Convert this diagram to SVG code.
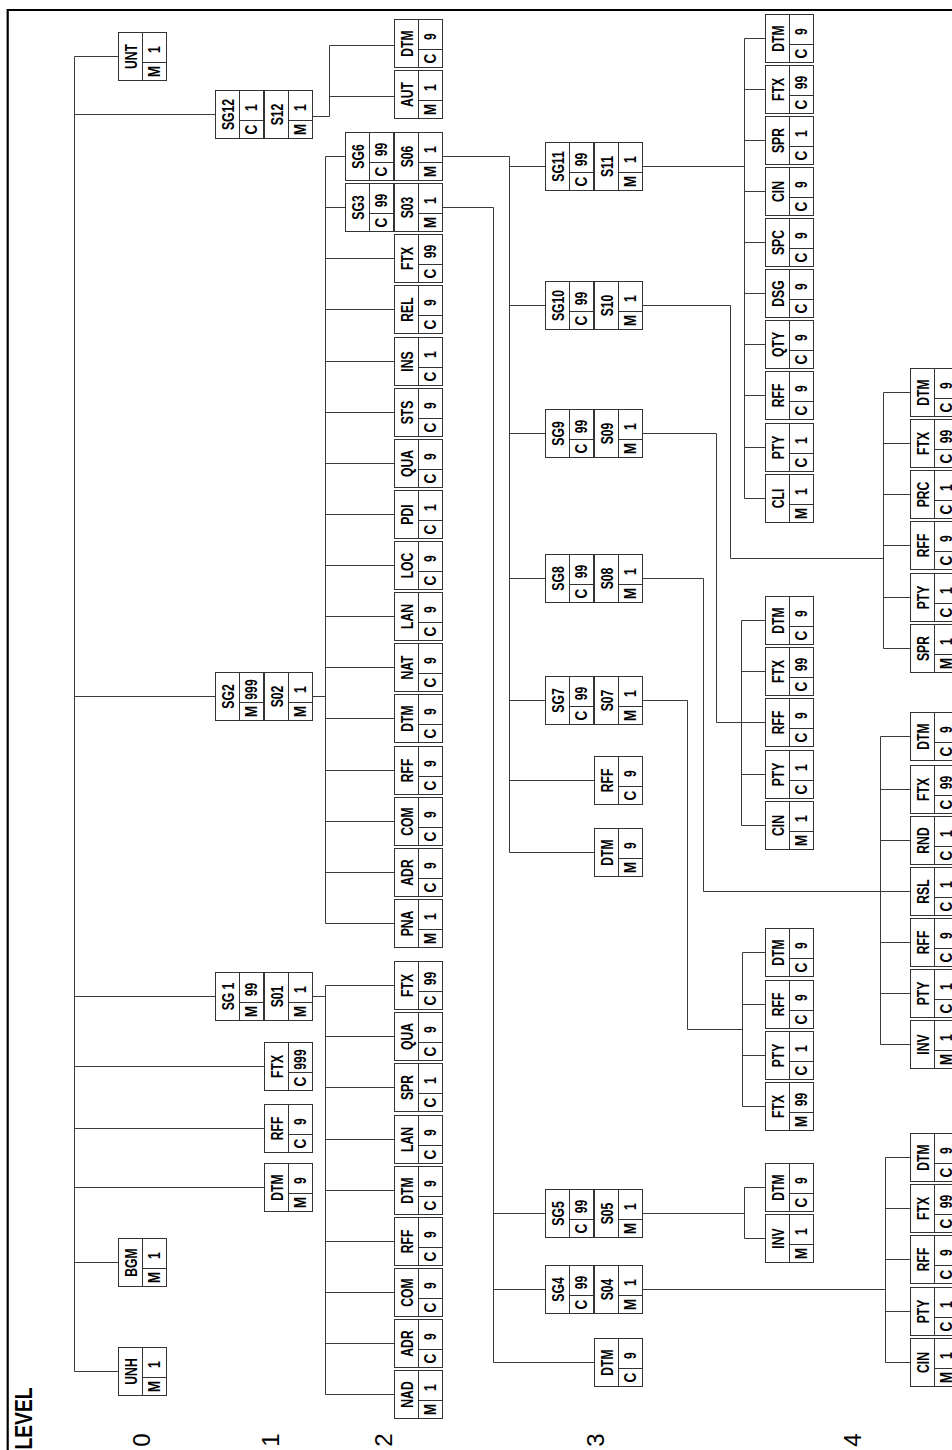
<svg xmlns="http://www.w3.org/2000/svg" width="952" height="1450" viewBox="0 0 952 1450">
<style>
text{font-family:"Liberation Sans",Arial,sans-serif;fill:#000}
.nm,.nu,.le{font-size:16px;font-weight:bold;text-anchor:middle}
.nm{transform:translate(18.5px,24px) rotate(-90deg) scale(.76,1)}
.nu{transform:translate(41.5px,17px) rotate(-90deg) scale(.76,1)}
.le{transform:translate(41.5px,39px) rotate(-90deg) scale(.85,1)}
.lk path{fill:none;stroke:#3a3a3a;stroke-width:1}
.frame{fill:none;stroke:#000;stroke-width:2.2}
.lv{font-size:24px;font-weight:bold;text-anchor:middle}
.dg{font-size:24px;text-anchor:middle}
</style>
<defs>
<g id="c"><rect width="48" height="48" fill="#fff" stroke="#333" stroke-width="1"/><path d="M24 0V48M24 30H48" fill="none" stroke="#333" stroke-width="1"/></g>
</defs>
<path class="frame" d="M7.7 1450V10H952"/>
<g class="lk" id="connectors">
<path d="M74.5 56.5V1371.5M74.5 56.5H118.5M74.5 114.5H215.5M74.5 696.5H215.5M74.5 996.5H215.5M74.5 1066.5H264.5M74.5 1128.5H264.5M74.5 1187.5H264.5M74.5 1262.5H118.5M74.5 1371.5H118.5"/>
<path d="M312.5 116.5H329.5M329.5 45.5V116.5M329.5 45.5H394.5M329.5 96.5H394.5"/>
<path d="M312.5 696.5H325.5M325.5 156.5V923.5M325.5 156.5H345.5M325.5 207.5H345.5M325.5 258.5H394.5M325.5 309.5H394.5M325.5 361.5H394.5M325.5 412.5H394.5M325.5 463.5H394.5M325.5 514.5H394.5M325.5 565.5H394.5M325.5 616.5H394.5M325.5 667.5H394.5M325.5 718.5H394.5M325.5 770.5H394.5M325.5 821.5H394.5M325.5 872.5H394.5M325.5 923.5H394.5"/>
<path d="M312.5 996.5H325.5M325.5 985.5V1394.5M325.5 985.5H394.5M325.5 1036.5H394.5M325.5 1087.5H394.5M325.5 1139.5H394.5M325.5 1190.5H394.5M325.5 1241.5H394.5M325.5 1292.5H394.5M325.5 1343.5H394.5M325.5 1394.5H394.5"/>
<path d="M442.5 156.5H509.5V852.5M509.5 166.5H545.5M509.5 305.5H545.5M509.5 433.5H545.5M509.5 578.5H545.5M509.5 700.5H545.5M509.5 780.5H594.5M509.5 852.5H594.5"/>
<path d="M442.5 207.5H493.5V1362.5M493.5 1213.5H545.5M493.5 1289.5H545.5M493.5 1362.5H594.5"/>
<path d="M642.5 166.5H744.5M744.5 38.5V498.5M744.5 38.5H765.5M744.5 89.5H765.5M744.5 140.5H765.5M744.5 191.5H765.5M744.5 242.5H765.5M744.5 293.5H765.5M744.5 344.5H765.5M744.5 395.5H765.5M744.5 447.5H765.5M744.5 498.5H765.5"/>
<path d="M642.5 305.5H730.5V558.5H883.5M883.5 392.5V648.5M883.5 392.5H910.5M883.5 443.5H910.5M883.5 494.5H910.5M883.5 545.5H910.5M883.5 597.5H910.5M883.5 648.5H910.5"/>
<path d="M642.5 433.5H716.5V722.5H741.5M741.5 620.5V825.5M741.5 620.5H765.5M741.5 671.5H765.5M741.5 722.5H765.5M741.5 774.5H765.5M741.5 825.5H765.5"/>
<path d="M642.5 578.5H703.5V891.5H880.5M880.5 736.5V1044.5M880.5 736.5H910.5M880.5 789.5H910.5M880.5 840.5H910.5M880.5 891.5H910.5M880.5 942.5H910.5M880.5 993.5H910.5M880.5 1044.5H910.5"/>
<path d="M642.5 700.5H687.5V1029.5H742.5M742.5 952.5V1106.5M742.5 952.5H765.5M742.5 1004.5H765.5M742.5 1055.5H765.5M742.5 1106.5H765.5"/>
<path d="M642.5 1213.5H744.5M744.5 1187.5V1238.5M744.5 1187.5H765.5M744.5 1238.5H765.5"/>
<path d="M642.5 1289.5H885.5M885.5 1157.5V1362.5M885.5 1157.5H910.5M885.5 1208.5H910.5M885.5 1259.5H910.5M885.5 1311.5H910.5M885.5 1362.5H910.5"/>
</g>
<g id="levels">
<text class="lv" transform="translate(32,1418.5) rotate(-90) scale(.8,1)">LEVEL</text>
<text class="dg" transform="translate(150,1440) rotate(-90)">0</text>
<text class="dg" transform="translate(279,1440) rotate(-90)">1</text>
<text class="dg" transform="translate(392,1440) rotate(-90)">2</text>
<text class="dg" transform="translate(604,1440) rotate(-90)">3</text>
<text class="dg" transform="translate(861,1440) rotate(-90)">4</text>
</g>
<g id="unt" transform="translate(118.5,32.5)"><use href="#c"/><text class="nm">UNT</text><text class="nu">1</text><text class="le">M</text></g>
<g id="bgm" transform="translate(118.5,1238.5)"><use href="#c"/><text class="nm">BGM</text><text class="nu">1</text><text class="le">M</text></g>
<g id="unh" transform="translate(118.5,1347.5)"><use href="#c"/><text class="nm">UNH</text><text class="nu">1</text><text class="le">M</text></g>
<g id="sg12" transform="translate(215.5,90.5)"><use href="#c"/><text class="nm">SG12</text><text class="nu">1</text><text class="le">C</text><g transform="translate(49,0)"><use href="#c"/><text class="nm">S12</text><text class="nu">1</text><text class="le">M</text></g></g>
<g id="sg2" transform="translate(215.5,672.5)"><use href="#c"/><text class="nm">SG2</text><text class="nu">999</text><text class="le">M</text><g transform="translate(49,0)"><use href="#c"/><text class="nm">S02</text><text class="nu">1</text><text class="le">M</text></g></g>
<g id="sg1" transform="translate(215.5,972.5)"><use href="#c"/><text class="nm">SG 1</text><text class="nu">99</text><text class="le">M</text><g transform="translate(49,0)"><use href="#c"/><text class="nm">S01</text><text class="nu">1</text><text class="le">M</text></g></g>
<g id="ftx1" transform="translate(264.5,1042.5)"><use href="#c"/><text class="nm">FTX</text><text class="nu">999</text><text class="le">C</text></g>
<g id="rff1" transform="translate(264.5,1104.5)"><use href="#c"/><text class="nm">RFF</text><text class="nu">9</text><text class="le">C</text></g>
<g id="dtm1" transform="translate(264.5,1163.5)"><use href="#c"/><text class="nm">DTM</text><text class="nu">9</text><text class="le">M</text></g>
<g id="s12-dtm" transform="translate(394.5,19.5)"><use href="#c"/><text class="nm">DTM</text><text class="nu">9</text><text class="le">C</text></g>
<g id="s12-aut" transform="translate(394.5,70.5)"><use href="#c"/><text class="nm">AUT</text><text class="nu">1</text><text class="le">M</text></g>
<g id="sg6" transform="translate(345.5,132.5)"><use href="#c"/><text class="nm">SG6</text><text class="nu">99</text><text class="le">C</text><g transform="translate(49,0)"><use href="#c"/><text class="nm">S06</text><text class="nu">1</text><text class="le">M</text></g></g>
<g id="sg3" transform="translate(345.5,183.5)"><use href="#c"/><text class="nm">SG3</text><text class="nu">99</text><text class="le">C</text><g transform="translate(49,0)"><use href="#c"/><text class="nm">S03</text><text class="nu">1</text><text class="le">M</text></g></g>
<g id="s02-ftx" transform="translate(394.5,234.5)"><use href="#c"/><text class="nm">FTX</text><text class="nu">99</text><text class="le">C</text></g>
<g id="s02-rel" transform="translate(394.5,285.5)"><use href="#c"/><text class="nm">REL</text><text class="nu">9</text><text class="le">C</text></g>
<g id="s02-ins" transform="translate(394.5,337.5)"><use href="#c"/><text class="nm">INS</text><text class="nu">1</text><text class="le">C</text></g>
<g id="s02-sts" transform="translate(394.5,388.5)"><use href="#c"/><text class="nm">STS</text><text class="nu">9</text><text class="le">C</text></g>
<g id="s02-qua" transform="translate(394.5,439.5)"><use href="#c"/><text class="nm">QUA</text><text class="nu">9</text><text class="le">C</text></g>
<g id="s02-pdi" transform="translate(394.5,490.5)"><use href="#c"/><text class="nm">PDI</text><text class="nu">1</text><text class="le">C</text></g>
<g id="s02-loc" transform="translate(394.5,541.5)"><use href="#c"/><text class="nm">LOC</text><text class="nu">9</text><text class="le">C</text></g>
<g id="s02-lan" transform="translate(394.5,592.5)"><use href="#c"/><text class="nm">LAN</text><text class="nu">9</text><text class="le">C</text></g>
<g id="s02-nat" transform="translate(394.5,643.5)"><use href="#c"/><text class="nm">NAT</text><text class="nu">9</text><text class="le">C</text></g>
<g id="s02-dtm" transform="translate(394.5,694.5)"><use href="#c"/><text class="nm">DTM</text><text class="nu">9</text><text class="le">C</text></g>
<g id="s02-rff" transform="translate(394.5,746.5)"><use href="#c"/><text class="nm">RFF</text><text class="nu">9</text><text class="le">C</text></g>
<g id="s02-com" transform="translate(394.5,797.5)"><use href="#c"/><text class="nm">COM</text><text class="nu">9</text><text class="le">C</text></g>
<g id="s02-adr" transform="translate(394.5,848.5)"><use href="#c"/><text class="nm">ADR</text><text class="nu">9</text><text class="le">C</text></g>
<g id="s02-pna" transform="translate(394.5,899.5)"><use href="#c"/><text class="nm">PNA</text><text class="nu">1</text><text class="le">M</text></g>
<g id="s01-ftx" transform="translate(394.5,961.5)"><use href="#c"/><text class="nm">FTX</text><text class="nu">99</text><text class="le">C</text></g>
<g id="s01-qua" transform="translate(394.5,1012.5)"><use href="#c"/><text class="nm">QUA</text><text class="nu">9</text><text class="le">C</text></g>
<g id="s01-spr" transform="translate(394.5,1063.5)"><use href="#c"/><text class="nm">SPR</text><text class="nu">1</text><text class="le">C</text></g>
<g id="s01-lan" transform="translate(394.5,1115.5)"><use href="#c"/><text class="nm">LAN</text><text class="nu">9</text><text class="le">C</text></g>
<g id="s01-dtm" transform="translate(394.5,1166.5)"><use href="#c"/><text class="nm">DTM</text><text class="nu">9</text><text class="le">C</text></g>
<g id="s01-rff" transform="translate(394.5,1217.5)"><use href="#c"/><text class="nm">RFF</text><text class="nu">9</text><text class="le">C</text></g>
<g id="s01-com" transform="translate(394.5,1268.5)"><use href="#c"/><text class="nm">COM</text><text class="nu">9</text><text class="le">C</text></g>
<g id="s01-adr" transform="translate(394.5,1319.5)"><use href="#c"/><text class="nm">ADR</text><text class="nu">9</text><text class="le">C</text></g>
<g id="s01-nad" transform="translate(394.5,1370.5)"><use href="#c"/><text class="nm">NAD</text><text class="nu">1</text><text class="le">M</text></g>
<g id="sg11" transform="translate(545.5,142.5)"><use href="#c"/><text class="nm">SG11</text><text class="nu">99</text><text class="le">C</text><g transform="translate(49,0)"><use href="#c"/><text class="nm">S11</text><text class="nu">1</text><text class="le">M</text></g></g>
<g id="sg10" transform="translate(545.5,281.5)"><use href="#c"/><text class="nm">SG10</text><text class="nu">99</text><text class="le">C</text><g transform="translate(49,0)"><use href="#c"/><text class="nm">S10</text><text class="nu">1</text><text class="le">M</text></g></g>
<g id="sg9" transform="translate(545.5,409.5)"><use href="#c"/><text class="nm">SG9</text><text class="nu">99</text><text class="le">C</text><g transform="translate(49,0)"><use href="#c"/><text class="nm">S09</text><text class="nu">1</text><text class="le">M</text></g></g>
<g id="sg8" transform="translate(545.5,554.5)"><use href="#c"/><text class="nm">SG8</text><text class="nu">99</text><text class="le">C</text><g transform="translate(49,0)"><use href="#c"/><text class="nm">S08</text><text class="nu">1</text><text class="le">M</text></g></g>
<g id="sg7" transform="translate(545.5,676.5)"><use href="#c"/><text class="nm">SG7</text><text class="nu">99</text><text class="le">C</text><g transform="translate(49,0)"><use href="#c"/><text class="nm">S07</text><text class="nu">1</text><text class="le">M</text></g></g>
<g id="s06-rff" transform="translate(594.5,756.5)"><use href="#c"/><text class="nm">RFF</text><text class="nu">9</text><text class="le">C</text></g>
<g id="s06-dtm" transform="translate(594.5,828.5)"><use href="#c"/><text class="nm">DTM</text><text class="nu">9</text><text class="le">M</text></g>
<g id="sg5" transform="translate(545.5,1189.5)"><use href="#c"/><text class="nm">SG5</text><text class="nu">99</text><text class="le">C</text><g transform="translate(49,0)"><use href="#c"/><text class="nm">S05</text><text class="nu">1</text><text class="le">M</text></g></g>
<g id="sg4" transform="translate(545.5,1265.5)"><use href="#c"/><text class="nm">SG4</text><text class="nu">99</text><text class="le">C</text><g transform="translate(49,0)"><use href="#c"/><text class="nm">S04</text><text class="nu">1</text><text class="le">M</text></g></g>
<g id="s03-dtm" transform="translate(594.5,1338.5)"><use href="#c"/><text class="nm">DTM</text><text class="nu">9</text><text class="le">C</text></g>
<g id="s11-dtm" transform="translate(765.5,14.5)"><use href="#c"/><text class="nm">DTM</text><text class="nu">9</text><text class="le">C</text></g>
<g id="s11-ftx" transform="translate(765.5,65.5)"><use href="#c"/><text class="nm">FTX</text><text class="nu">99</text><text class="le">C</text></g>
<g id="s11-spr" transform="translate(765.5,116.5)"><use href="#c"/><text class="nm">SPR</text><text class="nu">1</text><text class="le">C</text></g>
<g id="s11-cin" transform="translate(765.5,167.5)"><use href="#c"/><text class="nm">CIN</text><text class="nu">9</text><text class="le">C</text></g>
<g id="s11-spc" transform="translate(765.5,218.5)"><use href="#c"/><text class="nm">SPC</text><text class="nu">9</text><text class="le">C</text></g>
<g id="s11-dsg" transform="translate(765.5,269.5)"><use href="#c"/><text class="nm">DSG</text><text class="nu">9</text><text class="le">C</text></g>
<g id="s11-qty" transform="translate(765.5,320.5)"><use href="#c"/><text class="nm">QTY</text><text class="nu">9</text><text class="le">C</text></g>
<g id="s11-rff" transform="translate(765.5,371.5)"><use href="#c"/><text class="nm">RFF</text><text class="nu">9</text><text class="le">C</text></g>
<g id="s11-pty" transform="translate(765.5,423.5)"><use href="#c"/><text class="nm">PTY</text><text class="nu">1</text><text class="le">C</text></g>
<g id="s11-cli" transform="translate(765.5,474.5)"><use href="#c"/><text class="nm">CLI</text><text class="nu">1</text><text class="le">M</text></g>
<g id="s09-dtm" transform="translate(765.5,596.5)"><use href="#c"/><text class="nm">DTM</text><text class="nu">9</text><text class="le">C</text></g>
<g id="s09-ftx" transform="translate(765.5,647.5)"><use href="#c"/><text class="nm">FTX</text><text class="nu">99</text><text class="le">C</text></g>
<g id="s09-rff" transform="translate(765.5,698.5)"><use href="#c"/><text class="nm">RFF</text><text class="nu">9</text><text class="le">C</text></g>
<g id="s09-pty" transform="translate(765.5,750.5)"><use href="#c"/><text class="nm">PTY</text><text class="nu">1</text><text class="le">C</text></g>
<g id="s09-cin" transform="translate(765.5,801.5)"><use href="#c"/><text class="nm">CIN</text><text class="nu">1</text><text class="le">M</text></g>
<g id="s07-dtm" transform="translate(765.5,928.5)"><use href="#c"/><text class="nm">DTM</text><text class="nu">9</text><text class="le">C</text></g>
<g id="s07-rff" transform="translate(765.5,980.5)"><use href="#c"/><text class="nm">RFF</text><text class="nu">9</text><text class="le">C</text></g>
<g id="s07-pty" transform="translate(765.5,1031.5)"><use href="#c"/><text class="nm">PTY</text><text class="nu">1</text><text class="le">C</text></g>
<g id="s07-ftx" transform="translate(765.5,1082.5)"><use href="#c"/><text class="nm">FTX</text><text class="nu">99</text><text class="le">M</text></g>
<g id="s05-dtm" transform="translate(765.5,1163.5)"><use href="#c"/><text class="nm">DTM</text><text class="nu">9</text><text class="le">C</text></g>
<g id="s05-inv" transform="translate(765.5,1214.5)"><use href="#c"/><text class="nm">INV</text><text class="nu">1</text><text class="le">M</text></g>
<g id="s10-dtm" transform="translate(910.5,368.5)"><use href="#c"/><text class="nm">DTM</text><text class="nu">9</text><text class="le">C</text></g>
<g id="s10-ftx" transform="translate(910.5,419.5)"><use href="#c"/><text class="nm">FTX</text><text class="nu">99</text><text class="le">C</text></g>
<g id="s10-prc" transform="translate(910.5,470.5)"><use href="#c"/><text class="nm">PRC</text><text class="nu">1</text><text class="le">C</text></g>
<g id="s10-rff" transform="translate(910.5,521.5)"><use href="#c"/><text class="nm">RFF</text><text class="nu">9</text><text class="le">C</text></g>
<g id="s10-pty" transform="translate(910.5,573.5)"><use href="#c"/><text class="nm">PTY</text><text class="nu">1</text><text class="le">C</text></g>
<g id="s10-spr" transform="translate(910.5,624.5)"><use href="#c"/><text class="nm">SPR</text><text class="nu">1</text><text class="le">M</text></g>
<g id="s08-dtm" transform="translate(910.5,712.5)"><use href="#c"/><text class="nm">DTM</text><text class="nu">9</text><text class="le">C</text></g>
<g id="s08-ftx" transform="translate(910.5,765.5)"><use href="#c"/><text class="nm">FTX</text><text class="nu">99</text><text class="le">C</text></g>
<g id="s08-rnd" transform="translate(910.5,816.5)"><use href="#c"/><text class="nm">RND</text><text class="nu">1</text><text class="le">C</text></g>
<g id="s08-rsl" transform="translate(910.5,867.5)"><use href="#c"/><text class="nm">RSL</text><text class="nu">1</text><text class="le">C</text></g>
<g id="s08-rff" transform="translate(910.5,918.5)"><use href="#c"/><text class="nm">RFF</text><text class="nu">9</text><text class="le">C</text></g>
<g id="s08-pty" transform="translate(910.5,969.5)"><use href="#c"/><text class="nm">PTY</text><text class="nu">1</text><text class="le">C</text></g>
<g id="s08-inv" transform="translate(910.5,1020.5)"><use href="#c"/><text class="nm">INV</text><text class="nu">1</text><text class="le">M</text></g>
<g id="s04-dtm" transform="translate(910.5,1133.5)"><use href="#c"/><text class="nm">DTM</text><text class="nu">9</text><text class="le">C</text></g>
<g id="s04-ftx" transform="translate(910.5,1184.5)"><use href="#c"/><text class="nm">FTX</text><text class="nu">99</text><text class="le">C</text></g>
<g id="s04-rff" transform="translate(910.5,1235.5)"><use href="#c"/><text class="nm">RFF</text><text class="nu">9</text><text class="le">C</text></g>
<g id="s04-pty" transform="translate(910.5,1287.5)"><use href="#c"/><text class="nm">PTY</text><text class="nu">1</text><text class="le">C</text></g>
<g id="s04-cin" transform="translate(910.5,1338.5)"><use href="#c"/><text class="nm">CIN</text><text class="nu">1</text><text class="le">M</text></g>
</svg>
